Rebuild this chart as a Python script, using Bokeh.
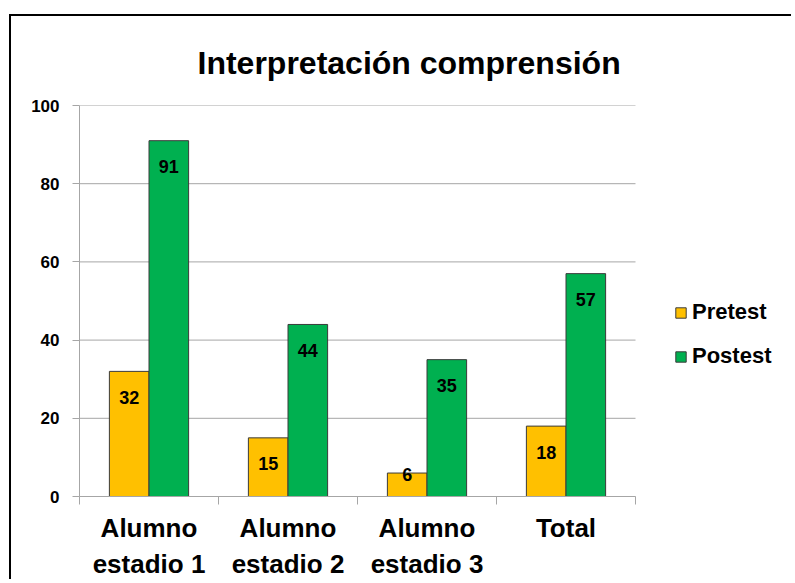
from bokeh.plotting import figure
from bokeh.models import (Range1d, LinearAxis, FixedTicker, Legend, LegendItem, ColumnDataSource)
from bokeh.core.properties import value
from bokeh.embed import file_html
from bokeh.resources import INLINE

categories = ["Alumno estadio 1", "Alumno estadio 2", "Alumno estadio 3", "Total"]
category_labels = ["Alumno\nestadio 1", "Alumno\nestadio 2", "Alumno\nestadio 3", "Total"]
pretest = [32, 15, 6, 18]
postest = [91, 44, 35, 57]
series_names = ["Pretest", "Postest"]
y_ticks = [0, 20, 40, 60, 80, 100]
title_text = "Interpretación comprensión"

FONT = "Liberation Sans"
GRID = "#A6A6A6"
PRE_COLOR = "#FFC000"
POST_COLOR = "#00B050"
EDGE = "#3A3A3A"
BAR_W = 0.285

W, H = 782, 565
LEFT, TOP, BOTTOM = 68, 89, 83
PLOT_W = 556            # pixel width of the category area
FRAME_W = W - LEFT      # frame extends to the right edge to host the legend

n = len(categories)
centers = [i + 0.5 for i in range(n)]
x_end = n * FRAME_W / PLOT_W

p = figure(x_range=Range1d(0, x_end), y_range=Range1d(0, 100),
           width=W, height=H, output_backend="svg", toolbar_location=None,
           x_axis_location=None, min_border_left=LEFT, min_border_right=0,
           min_border_top=TOP, min_border_bottom=BOTTOM)
p.margin = (14, 0, 0, 9)
p.styles = {"border-left": "2px solid black", "border-top": "2px solid black"}
p.outline_line_color = None

p.title.text = title_text
p.title.align = "left"
p.title.vertical_align = "top"
p.title.offset = 118
p.title.text_font = FONT
p.title.text_font_size = "32px"
p.title.text_font_style = "bold"
p.title.text_color = "black"
p.title.standoff = 45

# y axis
p.yaxis.ticker = FixedTicker(ticks=y_ticks)
p.yaxis.major_tick_out = 7
p.yaxis.major_tick_in = 0
p.yaxis.minor_tick_line_color = None
p.yaxis.axis_line_color = GRID
p.yaxis.major_tick_line_color = GRID
p.yaxis.major_label_text_font = FONT
p.yaxis.major_label_text_font_size = "17px"
p.yaxis.major_label_text_font_style = "bold"
p.yaxis.major_label_text_color = "black"
p.yaxis.major_label_standoff = 13
p.xgrid.visible = False
p.ygrid.visible = False

# horizontal gridlines limited to the category area
p.segment(x0=[0] * len(y_ticks), x1=[n] * len(y_ticks), y0=y_ticks, y1=y_ticks,
          line_color=GRID, line_width=1)

src = ColumnDataSource(dict(
    x_pre=[c - BAR_W / 2 for c in centers], x_post=[c + BAR_W / 2 for c in centers],
    pre=pretest, post=postest,
    pre_lbl=[str(v) for v in pretest], post_lbl=[str(v) for v in postest],
    pre_off=[26 if v > 10 else 1 for v in pretest],
    post_off=[26 if v > 10 else 1 for v in postest],
))

r1 = p.vbar(x="x_pre", top="pre", width=BAR_W, source=src,
            fill_color=PRE_COLOR, line_color=EDGE, line_width=1)
r2 = p.vbar(x="x_post", top="post", width=BAR_W, source=src,
            fill_color=POST_COLOR, line_color=EDGE, line_width=1)

for xc, col, lbl, off in [("x_pre", "pre", "pre_lbl", "pre_off"), ("x_post", "post", "post_lbl", "post_off")]:
    p.text(x=xc, y=col, text=lbl, y_offset=off, source=src,
           text_align="center", text_baseline="middle", text_font=value(FONT),
           text_font_size="18px", text_font_style="bold", text_color="black")

# category boundary ticks
tick_axis = LinearAxis(ticker=FixedTicker(ticks=list(range(n + 1))), bounds=(0, n),
                       major_label_text_font_size="0px", major_label_standoff=0,
                       major_label_text_color=None,
                       major_tick_out=8, major_tick_in=0, minor_tick_out=0, minor_tick_in=0,
                       axis_line_color=GRID, major_tick_line_color=GRID, minor_tick_line_color=None)
p.add_layout(tick_axis, "below")

cat_axis = LinearAxis(ticker=FixedTicker(ticks=centers),
                      major_label_overrides=dict(zip(centers, category_labels)),
                      major_tick_line_color=None, major_tick_out=0, major_tick_in=0,
                      minor_tick_line_color=None, minor_tick_out=0, minor_tick_in=0,
                      axis_line_color=None, major_label_standoff=8,
                      major_label_text_font=FONT, major_label_text_font_size="26px",
                      major_label_text_font_style="bold", major_label_text_color="black")
p.add_layout(cat_axis, "below")

legend = Legend(items=[LegendItem(label=series_names[0], renderers=[r1]),
                       LegendItem(label=series_names[1], renderers=[r2])],
                location=(PLOT_W + 39, 127), orientation="vertical",
                glyph_width=13, glyph_height=13, label_height=20, spacing=18,
                label_standoff=5, padding=0, margin=0,
                label_text_font=FONT, label_text_font_size="22px", label_text_font_style="bold",
                label_text_color="black", border_line_color=None, background_fill_alpha=0)
p.add_layout(legend, "center")

open("out.html", "w").write(file_html(p, INLINE))
